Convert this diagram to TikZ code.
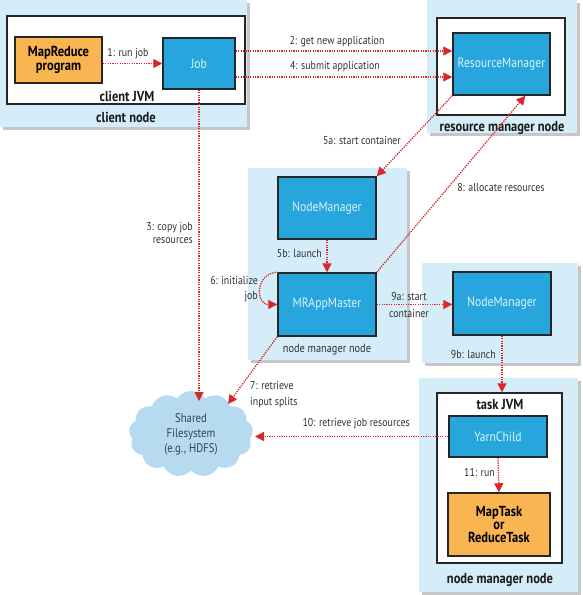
\documentclass[tikz,border=0pt]{standalone}
\usepackage{fontspec}
\setmainfont{PT Sans}[FakeStretch=0.86]
\usetikzlibrary{arrows.meta,shapes.symbols,shadows,calc}
\definecolor{bgblue}{HTML}{D5EDF8}
\definecolor{boxblue}{HTML}{27A6DD}
\definecolor{boxtext}{HTML}{DDF2FB}
\definecolor{orangebox}{HTML}{F8B552}
\definecolor{arrred}{HTML}{D9262B}
\definecolor{labgray}{HTML}{303030}
\definecolor{cloudblue}{HTML}{B6DBF0}
\definecolor{cloudtext}{HTML}{34424C}
\tikzset{
  outerbox/.style={fill=bgblue, draw=none, inner sep=0,
    drop shadow={shadow xshift=2.5pt, shadow yshift=-2.5pt, fill=black!50, opacity=0.45}},
  whitebox/.style={fill=white, draw=black!85, line width=1.5pt, inner sep=0},
  bluebox/.style={fill=boxblue, draw=black!85, line width=1.5pt, inner sep=0,
    text=boxtext, font=\fontsize{13.5}{15}\selectfont},
  orbox/.style={fill=orangebox, draw=black!85, line width=1.5pt, inner sep=0,
    align=center, font=\bfseries\fontsize{14.5}{16}\selectfont},
  lab/.style={text=labgray, inner sep=0, font=\fontsize{11.5}{13.5}\selectfont},
  ttl/.style={text=black!90, inner sep=0, font=\bfseries\fontsize{14.5}{16}\selectfont},
  flow/.style={draw=arrred, line width=1.3pt, dash pattern=on 1.3pt off 1.1pt,
    -{Triangle[length=9pt,width=9pt,fill=arrred]}},
}
\begin{document}
\begin{tikzpicture}[x=1pt,y=-1pt]
\useasboundingbox (0,0) rectangle (582,595);
% outer node boxes
\node[outerbox, minimum width=247, minimum height=127] (clientnode) at (123.5,63.5) {};
\node[outerbox, minimum width=150, minimum height=133] (rmnode) at (502,66.5) {};
\node[outerbox, minimum width=159, minimum height=192] (nmnodeA) at (327.5,264) {};
\node[outerbox, minimum width=156, minimum height=100] (nmnodeB) at (500,313) {};
\node[outerbox, minimum width=159, minimum height=214] (nmnodeC) at (498.5,485) {};
% JVM boxes
\node[whitebox, minimum width=238, minimum height=88] (clientjvm) at (126,60) {};
\node[whitebox, minimum width=128, minimum height=97] (rmjvm) at (501,66.5) {};
\node[whitebox, minimum width=125, minimum height=170] (taskjvm) at (499.5,478) {};
% components
\node[orbox, minimum width=87, minimum height=46] (mrprog) at (58.5,60) {MapReduce\\[-2pt]program};
\node[bluebox, minimum width=72, minimum height=51] (job) at (199,63.5) {Job};
\node[bluebox, minimum width=97, minimum height=62] (rm) at (501.5,64) {ResourceManager};
\node[bluebox, minimum width=98, minimum height=62] (nmA) at (327,208) {NodeManager};
\node[bluebox, minimum width=98, minimum height=63] (mram) at (327,304.5) {MRAppMaster};
\node[bluebox, minimum width=98, minimum height=63] (nmB) at (502,303.5) {NodeManager};
\node[bluebox, minimum width=98, minimum height=41] (yc) at (498,436.5) {YarnChild};
\node[orbox, minimum width=102, minimum height=63] (mt) at (499,524.5) {MapTask\\[-3pt]or\\[-3pt]ReduceTask};
\node[cloud, cloud puffs=13, cloud puff arc=110, aspect=1.45, fill=cloudblue, draw=none,
  minimum width=124, minimum height=86, inner sep=0, align=center, text=cloudtext,
  font=\fontsize{12.5}{15}\selectfont] (fs) at (191,434) {Shared\\Filesystem\\(e.g., HDFS)};
% titles
\node[ttl] (tcj) at (127,96) {client JVM};
\node[ttl] (tcn) at (126,117) {client node};
\node[ttl] (trm) at (502,128) {resource manager node};
\node[lab, font=\fontsize{12}{13}\selectfont] (tnA) at (327,350) {node manager node};
\node[ttl] (ttj) at (500,405) {task JVM};
\node[ttl] (tnC) at (500,580) {node manager node};
% free ends
\coordinate (c3) at (199,401);
\coordinate (c7) at (228,404);
\coordinate (c10) at (255,436.5);
\coordinate (c8) at ($(rm.south west)!0.742!(rm.south east)$);
% connectors
\draw[flow] (mrprog.east |- job) -- (job.west);
\draw[flow] ([yshift=12.5pt]job.east) -- ([yshift=12.5pt]job.east -| rm.west);
\draw[flow] ([yshift=-13.5pt]job.east) -- ([yshift=-13.5pt]job.east -| rm.west);
\draw[flow] (job.south) -- (c3);
\draw[flow] (rm.south west) -- (nmA.north east);
\draw[flow] (mram.north east) -- (c8);
\draw[flow] (nmA.south) -- (mram.north);
\draw[flow] ([xshift=1pt]mram.north west) to[out=180,in=180,looseness=1.8] (mram.west);
\draw[flow] (mram.east) -- (mram.east -| nmB.west);
\draw[flow] (nmB.south) -- (nmB.south |- taskjvm.north);
\draw[flow] (yc.south) -- (mt.north);
\draw[flow] (mram.south west) -- (c7);
\draw[flow] (yc.west) -- (c10);
% labels
\node[lab] (l1) at (128,54) {1: run job};
\node[lab] (l2) at (337,42) {2: get new application};
\node[lab] (l4) at (335,67) {4: submit application};
\node[lab, anchor=east, align=right] (l3) at (193,233) {3: copy job\\resources};
\node[lab, anchor=east] (l5a) at (401,140) {5a: start container};
\node[lab, anchor=east] (l5b) at (322,254) {5b: launch};
\node[lab, anchor=east, align=right, font=\fontsize{11.5}{15}\selectfont] (l6) at (258,289.5) {6: initialize\\job};
\node[lab] (l8) at (501,187) {8: allocate resources};
\node[lab, align=center, font=\fontsize{11.5}{17}\selectfont] (l9a) at (409,304.5) {9a: start\\container};
\node[lab, anchor=east] (l9b) at (496,354) {9b: launch};
\node[lab, anchor=west, align=left, font=\fontsize{11.5}{16}\selectfont] (l7) at (250,395) {7: retrieve\\input splits};
\node[lab, anchor=east] (l10) at (410,424) {10: retrieve job resources};
\node[lab, anchor=east] (l11) at (495,472) {11: run};
\end{tikzpicture}
\end{document}
